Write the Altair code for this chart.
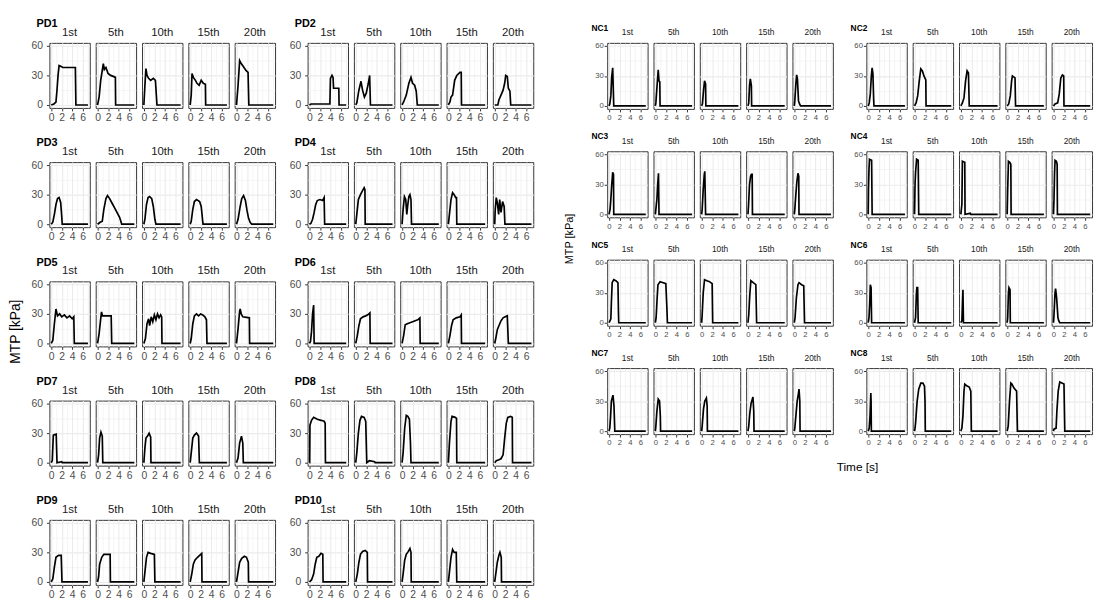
import altair as alt
import pandas as pd

TRIALS = ["1st", "5th", "10th", "15th", "20th"]
X_GRID = [0, 1, 2, 3, 4, 5, 6, 7]
Y_GRID = [0, 15, 30, 45, 60]
X_DOMAIN = [-0.35, 7.35]
Y_DOMAIN = [-3, 63]
Y_TITLE = "MTP [kPa]"
X_TITLE = "Time [s]"

# ---- MTP curves (time [s], MTP [kPa]) ----
PD1 = {
    "1st": [[0, 0], [0.5, 1], [0.9, 3], [1.1, 15], [1.3, 30], [1.5, 40], [1.9, 39], [2.2, 38], [4.6, 38], [4.7, 0], [7, 0]],
    "5th": [[0, 0], [0.3, 8], [0.6, 25], [0.9, 35], [1.1, 42], [1.3, 36], [1.6, 38], [2.0, 32], [2.5, 30], [3.0, 29], [3.4, 28], [3.45, 0], [7, 0]],
    "10th": [[0, 0], [0.2, 20], [0.4, 37], [0.6, 30], [0.9, 27], [1.3, 25], [1.8, 27], [2.2, 25], [2.5, 0], [7, 0]],
    "15th": [[0, 0], [0.2, 10], [0.35, 32], [0.6, 28], [1.0, 25], [1.3, 22], [1.7, 20], [2.1, 25], [2.5, 22], [2.9, 21], [2.95, 0], [7, 0]],
    "20th": [[0, 0], [0.3, 20], [0.6, 45], [0.9, 42], [1.3, 39], [1.8, 35], [2.2, 33], [2.35, 0], [7, 0]],
}
PD2 = {
    "1st": [[0, 0], [0.3, 1], [3.9, 1], [4.0, 27], [4.3, 30], [4.5, 28], [4.6, 17], [5.6, 17], [5.65, 0], [7, 0]],
    "5th": [[0, 0], [0.2, 2], [0.6, 15], [1.0, 24], [1.3, 15], [1.65, 8], [2.0, 12], [2.4, 22], [2.65, 30], [2.8, 0], [7, 0]],
    "10th": [[0, 0], [0.3, 3], [0.8, 10], [1.3, 22], [1.7, 28], [2.0, 22], [2.4, 20], [2.7, 14], [2.9, 0], [7, 0]],
    "15th": [[0, 0], [0.3, 3], [0.5, 8], [0.8, 10], [1.2, 25], [1.6, 30], [2.2, 33], [2.45, 33], [2.5, 0], [7, 0]],
    "20th": [[0, 0], [0.6, 0], [0.8, 5], [1.2, 10], [1.6, 15], [1.9, 22], [2.1, 30], [2.4, 29], [2.6, 17], [2.9, 14], [3.05, 0], [7, 0]],
}
PD3 = {
    "1st": [[0, 0], [0.3, 2], [0.6, 10], [0.9, 20], [1.2, 26], [1.5, 27], [1.8, 22], [2.0, 8], [2.1, 0], [7, 0]],
    "5th": [[0, 0], [0.5, 2], [0.9, 3], [1.2, 15], [1.6, 26], [1.9, 29], [2.3, 26], [2.8, 21], [3.3, 16], [3.8, 11], [4.2, 7], [4.5, 2], [4.6, 0], [7, 0]],
    "10th": [[0, 0], [0.2, 5], [0.5, 20], [0.8, 27], [1.1, 28], [1.5, 26], [1.8, 18], [2.1, 5], [2.3, 0], [7, 0]],
    "15th": [[0, 0], [0.2, 3], [0.5, 15], [0.8, 23], [1.2, 25], [1.8, 23], [2.1, 18], [2.35, 5], [2.45, 0], [7, 0]],
    "20th": [[0, 0], [0.3, 5], [0.7, 18], [1.0, 26], [1.35, 29], [1.7, 24], [2.0, 14], [2.3, 6], [2.6, 2], [2.9, 0], [7, 0]],
}
PD4 = {
    "1st": [[0, 0], [0.3, 1], [0.6, 5], [0.9, 12], [1.2, 20], [1.5, 24], [2.0, 25], [2.5, 24], [2.8, 27], [2.9, 0], [7, 0]],
    "5th": [[0, 0], [0.2, 10], [0.5, 25], [0.9, 30], [1.3, 34], [1.6, 37], [1.75, 35], [1.8, 0], [7, 0]],
    "10th": [[0, 0], [0.2, 15], [0.45, 28], [0.7, 25], [0.9, 10], [1.1, 20], [1.3, 28], [1.5, 30], [1.7, 25], [1.8, 0], [7, 0]],
    "15th": [[0, 0], [0.2, 10], [0.5, 25], [0.8, 32], [1.1, 30], [1.4, 27], [1.55, 27], [1.6, 0], [7, 0]],
    "20th": [[0, 0], [0.1, 15], [0.3, 27], [0.5, 22], [0.75, 10], [0.95, 25], [1.2, 12], [1.5, 23], [1.8, 18], [1.95, 0], [7, 0]],
}
PD5 = {
    "1st": [[0, 0], [0.3, 3], [0.6, 20], [0.9, 35], [1.2, 28], [1.6, 30], [2.0, 27], [2.5, 29], [3.0, 26], [3.5, 28], [4.0, 25], [4.3, 27], [4.4, 0], [7, 0]],
    "5th": [[0, 0], [0.3, 10], [0.6, 25], [0.75, 32], [0.95, 28], [2.6, 28], [2.7, 0], [7, 0]],
    "10th": [[0, 0], [0.3, 5], [0.6, 20], [0.9, 25], [1.1, 18], [1.4, 27], [1.7, 22], [2.0, 29], [2.3, 24], [2.6, 30], [2.9, 26], [3.2, 29], [3.4, 27], [3.45, 0], [7, 0]],
    "15th": [[0, 0], [0.2, 5], [0.5, 20], [0.8, 28], [1.2, 30], [1.6, 28], [2.0, 30], [2.4, 29], [2.8, 27], [3.1, 24], [3.2, 0], [7, 0]],
    "20th": [[0, 0], [0.3, 15], [0.6, 33], [0.7, 35], [0.9, 30], [1.2, 27], [2.45, 26], [2.5, 0], [7, 0]],
}
PD6 = {
    "1st": [[0, 0], [0.2, 2], [0.4, 12], [0.6, 30], [0.8, 39], [0.9, 0], [7, 0]],
    "5th": [[0, 0], [0.3, 8], [0.6, 18], [0.9, 25], [1.4, 27], [1.9, 28], [2.3, 29], [2.7, 31], [2.75, 0], [7, 0]],
    "10th": [[0, 0], [0.3, 8], [0.6, 19], [1.0, 20], [1.5, 21], [2.0, 22], [2.5, 23], [3.0, 24], [3.4, 26], [3.45, 0], [7, 0]],
    "15th": [[0, 0], [0.3, 8], [0.6, 18], [0.9, 24], [1.5, 26], [2.2, 27], [2.45, 29], [2.5, 0], [7, 0]],
    "20th": [[0, 0], [0.2, 5], [0.5, 14], [0.8, 18], [1.2, 23], [1.6, 26], [2.0, 27], [2.4, 28], [2.6, 0], [7, 0]],
}
PD7 = {
    "1st": [[0, 0], [0.2, 2], [0.4, 28], [0.95, 29], [1.1, 0], [2.0, 1], [2.1, 0], [7, 0]],
    "5th": [[0, 0], [0.2, 8], [0.4, 25], [0.65, 31], [0.9, 27], [1.0, 0], [7, 0]],
    "10th": [[0, 0], [0.2, 15], [0.4, 25], [0.7, 27], [1.0, 30], [1.3, 26], [1.35, 0], [7, 0]],
    "15th": [[0, 0], [0.2, 10], [0.5, 25], [0.8, 28], [1.2, 30], [1.6, 27], [1.75, 0], [7, 0]],
    "20th": [[0, 0], [0.3, 5], [0.6, 20], [0.95, 27], [1.2, 20], [1.3, 0], [7, 0]],
}
PD8 = {
    "1st": [[0, 0], [0.05, 0], [0.1, 38], [0.4, 43], [0.8, 46], [1.5, 44], [2.2, 43], [2.8, 42], [3.0, 40], [3.05, 0], [7, 0]],
    "5th": [[0, 0], [0.2, 10], [0.5, 30], [0.8, 43], [1.1, 47], [1.6, 46], [1.9, 42], [2.1, 0], [2.6, 2], [3.6, 1], [3.7, 0], [7, 0]],
    "10th": [[0, 0], [0.2, 10], [0.5, 35], [0.8, 48], [1.1, 47], [1.4, 44], [1.6, 20], [1.7, 0], [7, 0]],
    "15th": [[0, 0], [0.2, 20], [0.5, 42], [0.7, 47], [1.3, 46], [1.55, 45], [1.6, 0], [7, 0]],
    "20th": [[0, 0], [0.3, 2], [0.8, 3], [1.2, 4], [1.6, 8], [1.9, 25], [2.2, 40], [2.5, 46], [3.0, 47], [3.35, 46], [3.4, 0], [7, 0]],
}
PD9 = {
    "1st": [[0, 0], [0.3, 3], [0.6, 15], [0.9, 25], [1.4, 27], [1.9, 27], [2.05, 0], [7, 0]],
    "5th": [[0, 0], [0.2, 5], [0.4, 18], [0.8, 25], [1.2, 28], [2.4, 28], [2.45, 0], [7, 0]],
    "10th": [[0, 0], [0.2, 10], [0.5, 25], [0.8, 30], [1.3, 29], [2.0, 28], [2.1, 0], [7, 0]],
    "15th": [[0, 0], [0.3, 8], [0.6, 18], [0.9, 22], [1.4, 25], [1.8, 27], [2.2, 29], [2.25, 0], [7, 0]],
    "20th": [[0, 0], [0.3, 10], [0.6, 20], [1.0, 24], [1.5, 26], [1.9, 25], [2.25, 20], [2.3, 0], [7, 0]],
}
PD10 = {
    "1st": [[0, 0], [0.4, 2], [0.8, 8], [1.1, 18], [1.4, 25], [1.8, 26], [2.2, 29], [2.55, 28], [2.6, 0], [7, 0]],
    "5th": [[0, 0], [0.3, 8], [0.6, 20], [0.9, 28], [1.3, 31], [1.8, 32], [2.2, 30], [2.25, 0], [7, 0]],
    "10th": [[0, 0], [0.2, 8], [0.5, 22], [0.8, 28], [1.2, 31], [1.5, 34], [1.7, 30], [1.75, 0], [7, 0]],
    "15th": [[0, 0], [0.2, 10], [0.5, 25], [0.8, 33], [1.1, 30], [1.5, 30], [1.6, 0], [7, 0]],
    "20th": [[0, 0], [0.2, 8], [0.5, 20], [0.8, 27], [1.0, 30], [1.25, 25], [1.3, 0], [7, 0]],
}
NC1 = {
    "1st": [[0, 0], [0.15, 2], [0.35, 10], [0.5, 28], [0.7, 38], [0.85, 10], [0.9, 0], [7, 0]],
    "5th": [[0, 0], [0.1, 3], [0.3, 18], [0.55, 36], [0.7, 25], [0.85, 24], [0.9, 0], [7, 0]],
    "10th": [[0, 0], [0.15, 2], [0.35, 15], [0.55, 25], [0.75, 22], [0.8, 0], [7, 0]],
    "15th": [[0, 0], [0.15, 3], [0.3, 20], [0.45, 27], [0.65, 20], [0.7, 0], [7, 0]],
    "20th": [[0, 0], [0.1, 5], [0.3, 22], [0.45, 31], [0.6, 27], [0.8, 5], [1.0, 2], [1.2, 0], [7, 0]],
}
NC2 = {
    "1st": [[0, 0], [0.2, 3], [0.4, 12], [0.6, 30], [0.75, 38], [0.9, 32], [1.05, 5], [1.1, 0], [7, 0]],
    "5th": [[0, 0], [0.3, 3], [0.6, 10], [0.9, 25], [1.2, 37], [1.5, 35], [1.8, 30], [2.15, 26], [2.2, 0], [7, 0]],
    "10th": [[0, 0], [0.3, 3], [0.6, 8], [0.9, 25], [1.2, 35], [1.45, 33], [1.6, 0], [7, 0]],
    "15th": [[0, 0], [0.3, 2], [0.6, 10], [0.85, 25], [1.0, 30], [1.5, 28], [1.6, 0], [7, 0]],
    "20th": [[0, 0], [0.3, 2], [0.8, 3], [1.1, 12], [1.4, 28], [1.7, 31], [1.95, 30], [2.0, 0], [7, 0]],
}
NC3 = {
    "1st": [[0, 0], [0.2, 5], [0.35, 15], [0.5, 28], [0.7, 42], [0.85, 40], [0.9, 0], [7, 0]],
    "5th": [[0, 0], [0.1, 5], [0.3, 15], [0.45, 30], [0.6, 41], [0.7, 0], [7, 0]],
    "10th": [[0, 0], [0.1, 5], [0.3, 25], [0.5, 40], [0.6, 43], [0.75, 0], [7, 0]],
    "15th": [[0, 0], [0.1, 8], [0.3, 30], [0.5, 38], [0.65, 40], [0.8, 40], [0.85, 0], [7, 0]],
    "20th": [[0, 0], [0.1, 5], [0.3, 20], [0.5, 33], [0.7, 41], [0.85, 38], [0.9, 0], [7, 0]],
}
NC4 = {
    "1st": [[0, 0], [0.05, 25], [0.15, 45], [0.25, 55], [0.65, 54], [0.75, 0], [7, 0]],
    "5th": [[0, 0], [0.1, 30], [0.2, 42], [0.4, 55], [0.7, 54], [0.8, 0], [7, 0]],
    "10th": [[0, 0], [0.2, 10], [0.3, 53], [0.75, 52], [0.8, 0], [1.8, 1], [1.9, 0], [7, 0]],
    "15th": [[0, 0], [0.1, 25], [0.25, 53], [0.5, 52], [0.7, 50], [0.75, 0], [7, 0]],
    "20th": [[0, 0], [0.1, 15], [0.2, 40], [0.3, 54], [0.55, 53], [0.7, 50], [0.75, 0], [7, 0]],
}
NC5 = {
    "1st": [[0, 0], [0.2, 2], [0.35, 4], [0.45, 20], [0.6, 40], [0.9, 43], [1.3, 42], [1.7, 40], [1.8, 10], [1.85, 0], [7, 0]],
    "5th": [[0, 0], [0.15, 5], [0.35, 25], [0.5, 38], [0.9, 41], [1.5, 40], [2.0, 39], [2.2, 15], [2.3, 0], [7, 0]],
    "10th": [[0, 0], [0.1, 8], [0.3, 30], [0.55, 43], [1.0, 42], [1.5, 41], [2.0, 39], [2.1, 0], [7, 0]],
    "15th": [[0, 0], [0.15, 8], [0.35, 28], [0.55, 42], [1.0, 40], [1.5, 38], [1.65, 0], [7, 0]],
    "20th": [[0, 0], [0.15, 5], [0.4, 25], [0.7, 38], [0.9, 40], [1.4, 38], [1.8, 37], [1.95, 0], [7, 0]],
}
NC6 = {
    "1st": [[0, 0], [0.15, 5], [0.3, 20], [0.4, 38], [0.55, 35], [0.65, 0], [7, 0]],
    "5th": [[0, 0], [0.2, 5], [0.35, 28], [0.45, 35], [0.6, 35], [0.7, 0], [7, 0]],
    "10th": [[0, 0], [0.2, 2], [0.3, 18], [0.4, 33], [0.5, 0], [7, 0]],
    "15th": [[0, 0], [0.1, 5], [0.25, 30], [0.35, 35], [0.55, 33], [0.6, 0], [7, 0]],
    "20th": [[0, 0], [0.1, 8], [0.3, 30], [0.4, 34], [0.6, 25], [0.85, 5], [1.0, 2], [1.2, 0], [7, 0]],
}
NC7 = {
    "1st": [[0, 0], [0.15, 3], [0.3, 15], [0.45, 30], [0.75, 36], [0.95, 25], [1.1, 0], [7, 0]],
    "5th": [[0, 0], [0.1, 5], [0.3, 20], [0.55, 32], [0.8, 30], [0.95, 15], [1.0, 0], [7, 0]],
    "10th": [[0, 0], [0.1, 5], [0.35, 22], [0.6, 30], [0.9, 33], [1.05, 25], [1.1, 0], [7, 0]],
    "15th": [[0, 0], [0.15, 5], [0.35, 18], [0.6, 28], [0.95, 34], [1.1, 20], [1.15, 0], [7, 0]],
    "20th": [[0, 0], [0.1, 3], [0.3, 15], [0.55, 30], [0.8, 38], [0.9, 42], [1.05, 30], [1.1, 0], [7, 0]],
}
NC8 = {
    "1st": [[0, 0], [0.2, 3], [0.35, 15], [0.5, 38], [0.55, 30], [0.6, 0], [7, 0]],
    "5th": [[0, 0], [0.1, 3], [0.2, 8], [0.5, 30], [0.8, 42], [1.2, 48], [1.6, 48], [1.9, 45], [2.0, 30], [2.05, 0], [7, 0]],
    "10th": [[0, 0], [0.2, 3], [0.4, 15], [0.6, 40], [0.75, 47], [1.2, 45], [1.6, 44], [1.9, 40], [2.0, 0], [7, 0]],
    "15th": [[0, 0], [0.2, 5], [0.45, 30], [0.7, 48], [0.9, 47], [1.3, 43], [1.8, 40], [1.95, 0], [7, 0]],
    "20th": [[0, 0], [0.1, 2], [0.5, 3], [0.65, 20], [0.9, 40], [1.2, 49], [1.6, 48], [2.0, 47], [2.15, 0], [7, 0]],
}

PD_ROWS = [[("PD1", PD1), ("PD2", PD2)], [("PD3", PD3), ("PD4", PD4)], [("PD5", PD5), ("PD6", PD6)],
           [("PD7", PD7), ("PD8", PD8)], [("PD9", PD9), ("PD10", PD10)]]
NC_ROWS = [[("NC1", NC1), ("NC2", NC2)], [("NC3", NC3), ("NC4", NC4)],
           [("NC5", NC5), ("NC6", NC6)], [("NC7", NC7), ("NC8", NC8)]]

FONT = "Liberation Sans"
HIDE = "rgba(0,0,0,0)"
NOVIEW = alt.ViewBackground(stroke="transparent")


def subject(name, series, st):
    rows = [{"trial": tr, "t": p[0], "v": p[1]} for tr in TRIALS for p in series[tr]]
    df = pd.DataFrame(rows)
    x_axis = alt.Axis(
        values=X_GRID, title=None, domain=False,
        labelExpr="datum.value % 2 == 0 ? datum.label : ''",
        labelFontSize=st["lab"], labelColor="#4D4D4D", labelPadding=st["xpad"],
        labelFlush=False, labelOverlap=False, labelFont=FONT,
        tickSize=3, tickColor={"condition": {"test": "datum.value % 2 == 1", "value": HIDE}, "value": "#333333"},
        gridColor="#EBEBEB",
        gridWidth={"condition": {"test": "datum.value % 2 == 1", "value": 0.5}, "value": 1.1},
    )
    y_axis = alt.Axis(
        values=Y_GRID, title=None, domain=False,
        labelExpr="datum.value % 30 == 0 ? datum.label : ''",
        labelFontSize=st["lab"], labelColor="#4D4D4D", labelPadding=st["ypad"],
        labelOverlap=False, labelFlush=False, labelFont=FONT,
        tickSize=3, tickColor={"condition": {"test": "datum.value % 30 != 0", "value": HIDE}, "value": "#333333"},
        gridColor="#EBEBEB",
        gridWidth={"condition": {"test": "datum.value % 30 != 0", "value": 0.5}, "value": 1.1},
    )
    line = alt.Chart().mark_line(color="black", strokeWidth=1.7).encode(
        x=alt.X("t:Q", scale=alt.Scale(domain=X_DOMAIN, nice=False, zero=False), axis=x_axis),
        y=alt.Y("v:Q", scale=alt.Scale(domain=Y_DOMAIN, nice=False, zero=False), axis=y_axis),
    )
    label = alt.Chart().transform_filter(
        "datum.trial == '1st' && datum.t == 0"
    ).mark_text(align="left", baseline="alphabetic", fontSize=st["title"], fontWeight="bold",
                font=FONT, color="black").encode(
        x=alt.value(st["tdx"]), y=alt.value(st["tdy"]), text=alt.value(name)
    )
    layered = alt.layer(line, label, data=df).properties(width=st["w"], height=st["h"])
    return layered.facet(
        column=alt.Column("trial:N", sort=TRIALS,
                          header=alt.Header(title=None, labelFontSize=st["head"], labelColor="#1A1A1A",
                                            labelPadding=st["hpad"], labelFont=FONT,
                                            labelBaseline="alphabetic")),
        spacing=st["sp"],
        bounds="flush",
    )


def text_chart(txt, w, h, x, y, size, angle=0):
    d = pd.DataFrame({"label": [txt]})
    return alt.Chart(d).mark_text(fontSize=size, font=FONT, color="black", angle=angle,
                                  align="center", baseline="middle").encode(
        x=alt.value(x), y=alt.value(y), text="label:N"
    ).properties(width=w, height=h, view=NOVIEW)


LEFT = dict(w=41, h=66, sp=6, lab=10.5, head=11.5, title=11, xpad=2, ypad=4, hpad=-4.5, tdx=-13, tdy=-16)
RIGHT = dict(w=41, h=67, sp=6, lab=7.8, head=8.5, title=8.5, xpad=2, ypad=1, hpad=-1, tdx=-16, tdy=-12)

left_rows = [alt.hconcat(*[subject(n, s, LEFT) for n, s in row], spacing=11) for row in PD_ROWS]
right_rows = [alt.hconcat(*[subject(n, s, RIGHT) for n, s in row], spacing=14) for row in NC_ROWS]

left_block = alt.vconcat(*left_rows, spacing=13)
right_block = alt.vconcat(
    alt.vconcat(*right_rows, spacing=10),
    text_chart(X_TITLE, 470, 14, 254, 7, 12),
    spacing=12,
)

left_part = alt.hconcat(text_chart(Y_TITLE, 14, 540, 7, 293, 14, 270), left_block, spacing=7)
right_part = alt.hconcat(text_chart(Y_TITLE, 12, 400, 6, 199, 11, 270), right_block, spacing=14)

chart = alt.hconcat(left_part, right_part, spacing=27).properties(
    padding={"left": 0, "top": 5, "right": 0, "bottom": 0}
).configure(font=FONT).configure_view(stroke="#333333", strokeWidth=1).configure_header(labelFont=FONT)

chart.save("out.html", embed_options={"renderer": "svg", "actions": False})
